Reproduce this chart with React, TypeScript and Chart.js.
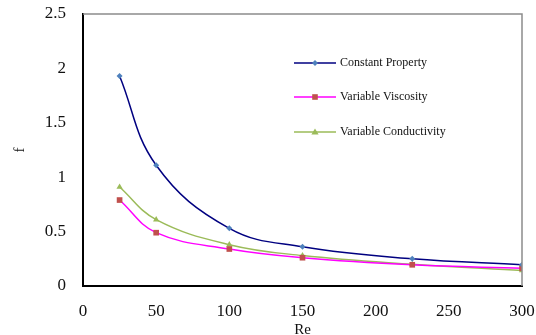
import React, { useEffect, useRef } from "react";
import { Chart, registerables } from "chart.js";

Chart.register(...registerables);

const re = [25, 50, 100, 150, 225, 300];
const constantProperty = [1.93, 1.11, 0.53, 0.36, 0.25, 0.196];
const variableViscosity = [0.79, 0.49, 0.34, 0.26, 0.195, 0.163];
const variableConductivity = [0.91, 0.61, 0.38, 0.28, 0.2, 0.142];
const seriesNames = ["Constant Property", "Variable Viscosity", "Variable Conductivity"];
const xTicks = [0, 50, 100, 150, 200, 250, 300];
const yTicks = [0, 0.5, 1, 1.5, 2, 2.5];

const FONT = "'Liberation Serif', 'Times New Roman', serif";

const frameAndLegend = {
  id: "frameAndLegend",
  afterDraw(chart: any) {
    const { ctx, chartArea } = chart;
    ctx.save();
    ctx.strokeStyle = "#8c8c8c";
    ctx.lineWidth = 1.5;
    ctx.beginPath();
    ctx.moveTo(chartArea.left, chartArea.top);
    ctx.lineTo(chartArea.right, chartArea.top);
    ctx.lineTo(chartArea.right, chartArea.bottom);
    ctx.stroke();
    const ys = [63, 97, 132];
    chart.data.datasets.forEach((ds: any, i: number) => {
      const y = ys[i];
      ctx.strokeStyle = ds.borderColor;
      ctx.lineWidth = 1.5;
      ctx.beginPath();
      ctx.moveTo(294, y);
      ctx.lineTo(336, y);
      ctx.stroke();
      ctx.fillStyle = ds.pointBackgroundColor;
      const r = ds.pointRadius;
      ctx.beginPath();
      if (ds.pointStyle === "rectRot") {
        ctx.moveTo(315, y - r);
        ctx.lineTo(315 + r, y);
        ctx.lineTo(315, y + r);
        ctx.lineTo(315 - r, y);
      } else if (ds.pointStyle === "rect") {
        ctx.rect(315 - r * 0.7, y - r * 0.7, r * 1.4, r * 1.4);
      } else {
        ctx.moveTo(315, y - r);
        ctx.lineTo(315 + r, y + r * 0.7);
        ctx.lineTo(315 - r, y + r * 0.7);
      }
      ctx.closePath();
      ctx.fill();
      ctx.fillStyle = "#111";
      ctx.font = `12px ${FONT}`;
      ctx.textBaseline = "middle";
      ctx.textAlign = "left";
      ctx.fillText(ds.label, 340, y);
    });
    ctx.restore();
  },
};

export default function App() {
  const ref = useRef<HTMLCanvasElement>(null);
  useEffect(() => {
    document.body.style.margin = "0";
    const mk = (vals: number[]) => re.map((x, i) => ({ x, y: vals[i] }));
    const chart = new Chart(ref.current!, {
      type: "line",
      data: {
        datasets: [
          {
            label: seriesNames[0],
            data: mk(constantProperty),
            borderColor: "#000080",
            borderWidth: 1.5,
            pointStyle: "rectRot",
            pointRadius: 3,
            pointBackgroundColor: "#4F81BD",
            pointBorderColor: "#4F81BD",
            pointBorderWidth: 0,
            tension: 0.4,
          },
          {
            label: seriesNames[1],
            data: mk(variableViscosity),
            borderColor: "#FF00FF",
            borderWidth: 1.5,
            pointStyle: "rect",
            pointRadius: 4,
            pointBackgroundColor: "#C0504D",
            pointBorderColor: "#C0504D",
            pointBorderWidth: 0,
            tension: 0.4,
          },
          {
            label: seriesNames[2],
            data: mk(variableConductivity),
            borderColor: "#9BBB59",
            borderWidth: 1.5,
            pointStyle: "triangle",
            pointRadius: 3.6,
            pointBackgroundColor: "#9BBB59",
            pointBorderColor: "#9BBB59",
            pointBorderWidth: 0,
            tension: 0.4,
          },
        ],
      },
      options: {
        animation: false,
        responsive: false,
        layout: { padding: { top: 14, right: 14, left: 0, bottom: 0 } },
        plugins: { legend: { display: false }, tooltip: { enabled: false } },
        scales: {
          x: {
            type: "linear",
            min: 0,
            max: 300,
            afterBuildTicks: (s: any) => {
              s.ticks = xTicks.map((v) => ({ value: v }));
            },
            afterFit: (s: any) => {
              s.height = 49;
              s.paddingLeft = 0;
              s.paddingRight = 0;
            },
            grid: { display: false, drawTicks: false },
            border: { display: true, color: "#000", width: 2 },
            ticks: { color: "#111", padding: 15, font: { family: FONT, size: 17 }, maxRotation: 0, callback: (v: any) => String(v) },
            title: { display: true, text: "Re", color: "#111", font: { family: FONT, size: 15 }, padding: { top: 0, bottom: -4 } },
          },
          y: {
            type: "linear",
            min: 0,
            max: 2.5,
            afterBuildTicks: (s: any) => {
              s.ticks = yTicks.map((v) => ({ value: v }));
            },
            afterFit: (s: any) => {
              s.width = 83;
              s.paddingTop = 0;
              s.paddingBottom = 0;
            },
            grid: { display: false, drawTicks: false },
            border: { display: true, color: "#000", width: 2 },
            ticks: { color: "#111", padding: 17, font: { family: FONT, size: 17 }, callback: (v: any) => String(v) },
            title: { display: true, text: "f", color: "#111", font: { family: FONT, size: 15 }, padding: { top: 11, bottom: 0 } },
          },
        },
      },
      plugins: [frameAndLegend],
    });
    return () => chart.destroy();
  }, []);
  return (
    <div style={{ position: "absolute", left: 0, top: 0, width: 536, height: 335 }}>
      <canvas ref={ref} width={536} height={335} style={{ width: 536, height: 335 }} />
    </div>
  );
}
